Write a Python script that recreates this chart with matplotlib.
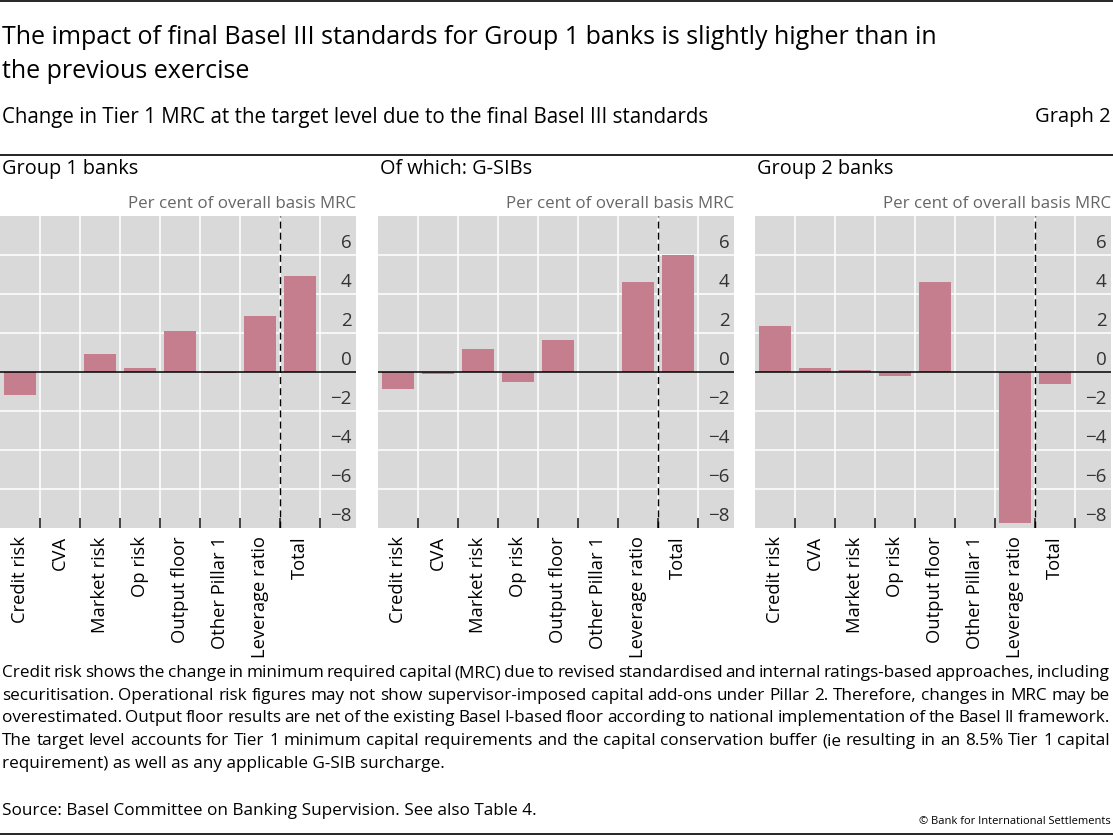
import numpy as np
import matplotlib
matplotlib.use("Agg")
import matplotlib.pyplot as plt
from matplotlib.transforms import blended_transform_factory, offset_copy

plt.rcParams['font.family'] = ['Open Sans', 'DejaVu Sans']

categories = ["Credit risk", "CVA", "Market risk", "Op risk", "Output floor",
              "Other Pillar 1", "Leverage ratio", "Total"]

group1 = [-1.2, 0.0, 0.9, 0.2, 2.1, -0.05, 2.85, 4.9]
gsibs = [-0.85, -0.1, 1.2, -0.5, 1.65, 0.0, 4.6, 6.0]
group2 = [2.35, 0.2, 0.1, -0.2, 4.6, 0.0, -7.75, -0.6]

panel_titles = ["Group 1 banks", "Of which: G-SIBs", "Group 2 banks"]
yticks = [-8, -6, -4, -2, 0, 2, 4, 6]

title_lines = ["The impact of final Basel III standards for Group 1 banks is slightly higher than in",
               "the previous exercise"]
subtitle = "Change in Tier 1 MRC at the target level due to the final Basel III standards"
unit = "Per cent of overall basis MRC"
notes = [
    "Credit risk shows the change in minimum required capital (MRC) due to revised standardised and internal ratings-based approaches, including",
    "securitisation. Operational risk figures may not show supervisor-imposed capital add-ons under Pillar 2. Therefore, changes in MRC may be",
    "overestimated. Output floor results are net of the existing Basel I-based floor according to national implementation of the Basel II framework.",
    "The target level accounts for Tier 1 minimum capital requirements and the capital conservation buffer (ie resulting in an 8.5% Tier 1 capital",
    "requirement) as well as any applicable G-SIB surcharge.",
]
source = "Source: Basel Committee on Banking Supervision. See also Table 4."

W, H = 1113, 836
fig = plt.figure(figsize=(W / 100, H / 100), dpi=100)
renderer = fig.canvas.get_renderer()

bar_color = '#C47E8E'
bg = '#D9D9D9'

# title block
for yy, line in zip([37, 72], title_lines):
    fig.text(2 / W, 1 - yy / H, line, fontsize=18, va='center', ha='left')
fig.text(2 / W, 1 - 117 / H, subtitle, fontsize=14.8, va='center', ha='left')
fig.text(1111 / W, 1 - 117 / H, "Graph 2", fontsize=14.5, va='center', ha='right')
for yy in [1, 155, 834]:
    fig.add_artist(plt.Line2D([0, 1], [1 - yy / H] * 2, color='black', lw=1.2))

lefts = [0, 378, 755]
series = [group1, gsibs, group2]
x = np.arange(len(categories))
for left, vals, ptitle in zip(lefts, series, panel_titles):
    ax = fig.add_axes([left / W, 1 - 528 / H, 356 / W, 312 / H])
    ax.set_facecolor(bg)
    ax.set_xlim(-0.5, 8.4)
    ax.set_ylim(-8, 8)
    for s in ax.spines.values():
        s.set_visible(False)

    # grid
    for yv in yticks[1:]:
        if yv == 0:
            continue
        ax.axhline(yv, color='white', lw=1.1, zorder=1)
    for xb in np.arange(0.5, 8, 1.0):
        ax.axvline(xb, color='white', lw=1.1, zorder=1)

    ax.bar(x, vals, width=0.8, color=bar_color, zorder=2)
    ax.axhline(0, color='black', lw=1.1, zorder=3)
    ax.axvline(6.5, color='black', lw=1.0, ls=(0, (5, 3)), zorder=3)

    ax.set_xticks(x)
    ax.set_xticklabels(categories, rotation=90, fontsize=13.2, va='top')
    ax.set_xticks(np.arange(0.5, 8, 1.0), minor=True)
    ax.tick_params(axis='x', which='major', length=0, pad=6)
    ax.tick_params(axis='x', which='minor', length=7, width=1.2,
                   direction='in', color='#222222')
    ax.set_yticks([])

    trans = blended_transform_factory(ax.transAxes, ax.transData)
    trans = offset_copy(trans, fig=fig, x=-3, y=2, units='points')
    for yv in yticks:
        ax.text(1.0, yv, "%d" % yv if yv >= 0 else "\u2212%d" % -yv,
                transform=trans, ha='right', va='bottom', fontsize=13.5,
                color='#333333')

    ax.text(1.0, 1.012, unit, transform=ax.transAxes, ha='right', va='bottom',
            fontsize=12.2, color='#666666')
    fig.text((left + 2) / W, 1 - 169 / H, ptitle, fontsize=14.3, va='center',
             ha='left')


def justified(line, y, x0, x1, size):
    # place the words of one line so that it spans x0..x1 pixels
    words = line.split(" ")
    arts = [fig.text(0, 1 - y / H, w, fontsize=size, va='center', ha='left') for w in words]
    widths = [a.get_window_extent(renderer).width for a in arts]
    gap = (x1 - x0 - sum(widths)) / (len(words) - 1)
    pos = x0
    for a, w in zip(arts, widths):
        a.set_x(pos / W)
        pos += w + gap


note_y = [673, 696, 718, 741, 764]
for i, (yy, line) in enumerate(zip(note_y, notes)):
    if i < len(notes) - 1:
        justified(line, yy, 2, 1110, 12.3)
    else:
        fig.text(2 / W, 1 - yy / H, line, fontsize=12.3, va='center', ha='left')
fig.text(2 / W, 1 - 811 / H, source, fontsize=12.3, va='center', ha='left')
fig.text(1111 / W, 1 - 822 / H, "\u00a9 Bank for International Settlements",
         fontsize=8, va='center', ha='right')

fig.savefig("out.png", dpi=100)
